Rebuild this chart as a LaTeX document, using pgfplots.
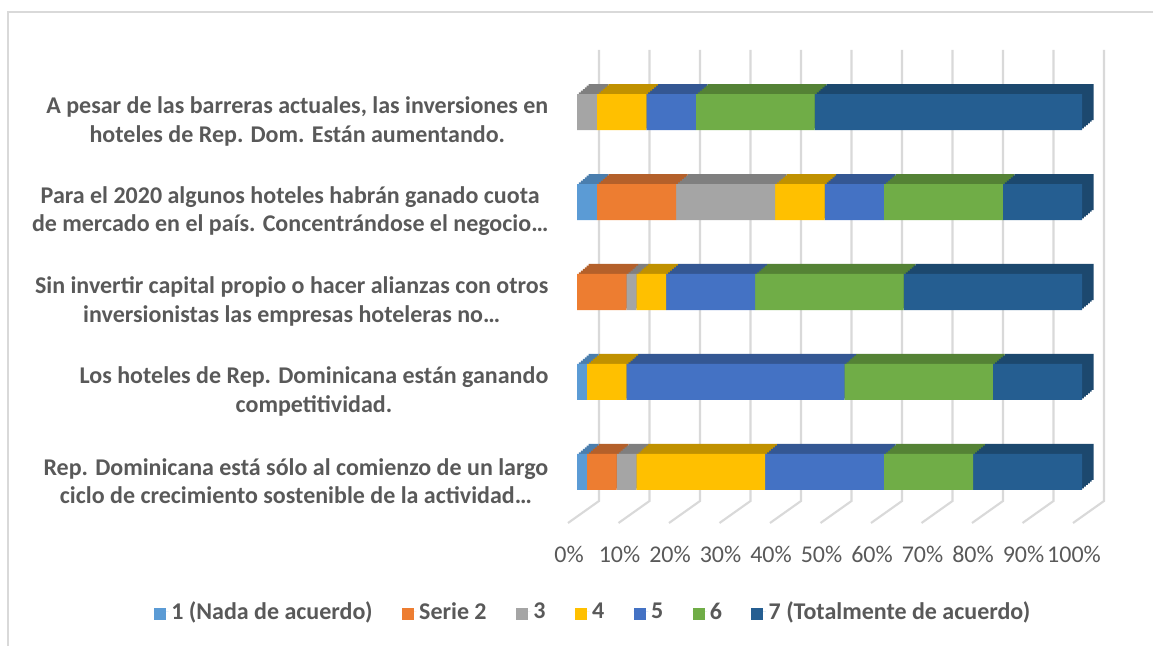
\documentclass[border=0pt]{standalone}
\usepackage{pgfplots}
\pgfplotsset{compat=1.18}
\usepackage{pgfplotstable}
\usepackage{fontspec}
\setmainfont{Carlito}
\definecolor{c1}{HTML}{5B9BD5}\definecolor{t1}{HTML}{4A7EAE}
\definecolor{c2}{HTML}{ED7D31}\definecolor{t2}{HTML}{B4602A}
\definecolor{c3}{HTML}{A5A5A5}\definecolor{t3}{HTML}{7F7F7F}
\definecolor{c4}{HTML}{FFC000}\definecolor{t4}{HTML}{C09100}
\definecolor{c5}{HTML}{4472C4}\definecolor{t5}{HTML}{345793}
\definecolor{c6}{HTML}{70AD47}\definecolor{t6}{HTML}{548235}
\definecolor{c7}{HTML}{255E91}\definecolor{t7}{HTML}{1C486E}
\definecolor{gridc}{HTML}{D9D9D9}
\definecolor{labc}{HTML}{595959}
\pgfplotsset{sqleg/.style={legend image code/.code={\path (0pt,0pt) -- (11pt,0pt);\fill[##1] (0pt,-6pt) rectangle (9pt,3pt);}}}

\pgfplotstableread{
y  s1   s2    s3    s4    s5    s6    s7
0  1.96 5.88  3.92  25.49 23.53 17.65 21.57
1  1.96 0     0     7.84  43.14 29.41 17.65
2  0    9.80  1.96  5.88  17.65 29.41 35.30
3  3.92 15.69 19.61 9.80  11.76 23.53 15.69
4  0    0     3.92  9.80  9.80  23.53 52.95
}\datatable

\begin{document}
\begin{tikzpicture}[x=0.75pt,y=0.75pt]
\useasboundingbox (0,0) rectangle (1153,646);
\draw[gridc, line width=1.2pt] (8,-20) rectangle (1180,633.7);
% back wall / floor grid lines
\foreach \i in {0,...,10}{
  \draw[gridc, line width=1.6pt] ({599+50.5*\i},596) -- ({599+50.5*\i},145) -- ({568+50.5*\i},123);
}
% depth (top and side faces), swept in small steps
\foreach \k in {6,5,4,3,2,1}{
\pgfmathsetmacro{\ax}{432.75+1.46*\k}
\pgfmathsetmacro{\ay}{76.5+1.25*\k}
\begin{axis}[at={(\ax pt,\ay pt)}, anchor=south west, scale only axis,
  width=378.75pt, height=371.25pt, xmin=0, xmax=100, ymin=-0.8, ymax=4.7,
  hide axis, xbar stacked, bar width=27pt, clip=false]
\addplot[fill=t1, draw=none] table[x=s1, y=y]{\datatable};
\addplot[fill=t2, draw=none] table[x=s2, y=y]{\datatable};
\addplot[fill=t3, draw=none] table[x=s3, y=y]{\datatable};
\addplot[fill=t4, draw=none] table[x=s4, y=y]{\datatable};
\addplot[fill=t5, draw=none] table[x=s5, y=y]{\datatable};
\addplot[fill=t6, draw=none] table[x=s6, y=y]{\datatable};
\addplot[fill=t7, draw=none] table[x=s7, y=y]{\datatable};
\end{axis}
}
% front faces
\begin{axis}[at={(432.75pt,76.5pt)}, anchor=south west, scale only axis,
  width=378.75pt, height=371.25pt, xmin=0, xmax=100, ymin=-0.8, ymax=4.7,
  xbar stacked, bar width=27pt, clip=false,
  axis line style={draw=none}, tick style={draw=none},
  xtick={0,10,...,100},
  xticklabels={0\%,10\%,20\%,30\%,40\%,50\%,60\%,70\%,80\%,90\%,100\%},
  xticklabel style={font=\fontsize{18}{20}\selectfont, text=labc, anchor=center, xshift=-6pt, yshift=-8pt},
  ytick={0,1,2,3,4},
  yticklabels={{Rep. Dominicana está sólo al comienzo de un largo\\ciclo de crecimiento sostenible de la actividad…},
    {Los hoteles de Rep. Dominicana están ganando\\competitividad.},
    {Sin invertir capital propio o hacer alianzas con otros\\inversionistas las empresas hoteleras no…},
    {Para el 2020 algunos hoteles habrán ganado cuota\\de mercado en el país. Concentrándose el negocio…},
    {A pesar de las barreras actuales, las inversiones en\\hoteles de Rep. Dom. Están aumentando.}},
  yticklabel style={font=\fontsize{18}{21.4}\selectfont\bfseries, text=labc, align=center, anchor=east, xshift=-18pt, yshift=-7pt},
  legend columns=7,
  legend style={at={(0.0327,-0.137)}, anchor=center, draw=none, fill=none,
    font=\fontsize{18}{20}\selectfont\bfseries, text=labc,
    /tikz/every even column/.append style={column sep=20pt}},
  legend cell align=left,
]
\addplot[fill=c1, draw=none, sqleg] table[x=s1, y=y]{\datatable};
\addlegendentry{1 (Nada de acuerdo)}
\addplot[fill=c2, draw=none, sqleg] table[x=s2, y=y]{\datatable};
\addlegendentry{Serie 2}
\addplot[fill=c3, draw=none, sqleg] table[x=s3, y=y]{\datatable};
\addlegendentry{3}
\addplot[fill=c4, draw=none, sqleg] table[x=s4, y=y]{\datatable};
\addlegendentry{4}
\addplot[fill=c5, draw=none, sqleg] table[x=s5, y=y]{\datatable};
\addlegendentry{5}
\addplot[fill=c6, draw=none, sqleg] table[x=s6, y=y]{\datatable};
\addlegendentry{6}
\addplot[fill=c7, draw=none, sqleg] table[x=s7, y=y]{\datatable};
\addlegendentry{7 (Totalmente de acuerdo)}
\end{axis}
\end{tikzpicture}
\end{document}
